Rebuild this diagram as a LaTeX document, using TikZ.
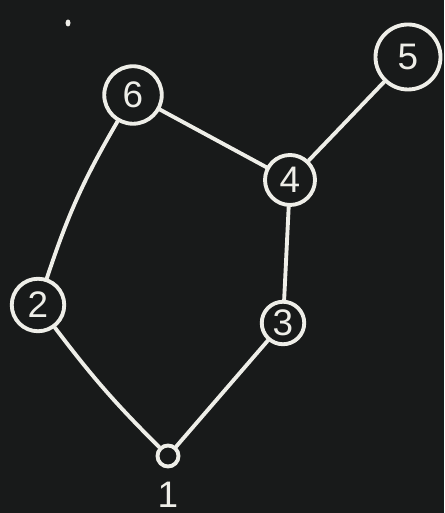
\documentclass[tikz,border=0pt]{standalone}
\usepackage{fontspec}
\setmainfont{Liberation Sans}
\usetikzlibrary{positioning}
\definecolor{board}{RGB}{24,26,26}
\definecolor{chalk}{RGB}{238,238,232}
\tikzset{
  vtx/.style={circle,draw=chalk,line width=2.2pt,text=chalk,inner sep=0pt,
    minimum size=#1,font=\fontsize{21}{24}\selectfont},
  vtx/.default=9mm,
  edge/.style={draw=chalk,line width=2.2pt,line cap=round},
  tag/.style={text=chalk,font=\fontsize{21}{24}\selectfont},
}
\begin{document}
\begin{tikzpicture}
  \fill[board] (0,0) rectangle (8.88,10.26);
  \useasboundingbox (0,0) rectangle (8.88,10.26);
  % chalk speck
  \fill[chalk] (1.36,9.8) ellipse (0.05 and 0.07);
  % vertices
  \node[vtx=11.5mm] (v6) at (2.66,8.36) {6};
  \node[vtx=13mm] (v5) at (8.16,9.12) {5};
  \node[vtx=10mm] (v4) at (5.80,6.66) {4};
  \node[vtx=10.5mm] (v2) at (0.76,4.16) {2};
  \node[vtx=8.5mm] (v3) at (5.66,3.80) {3};
  \node[vtx=4.2mm] (v1) at (3.36,1.14) {};
  \node[tag,below=0.15 of v1] (l1) {1};
  % edges
  \draw[edge] (v6) -- (v4);
  \draw[edge] (v4) -- (v5);
  \draw[edge] (v6) to[bend right=6] (v2);
  \draw[edge] (v4) -- (v3);
  \draw[edge] (v2) to[bend right=4] (v1);
  \draw[edge] (v3) -- (v1);
\end{tikzpicture}
\end{document}
